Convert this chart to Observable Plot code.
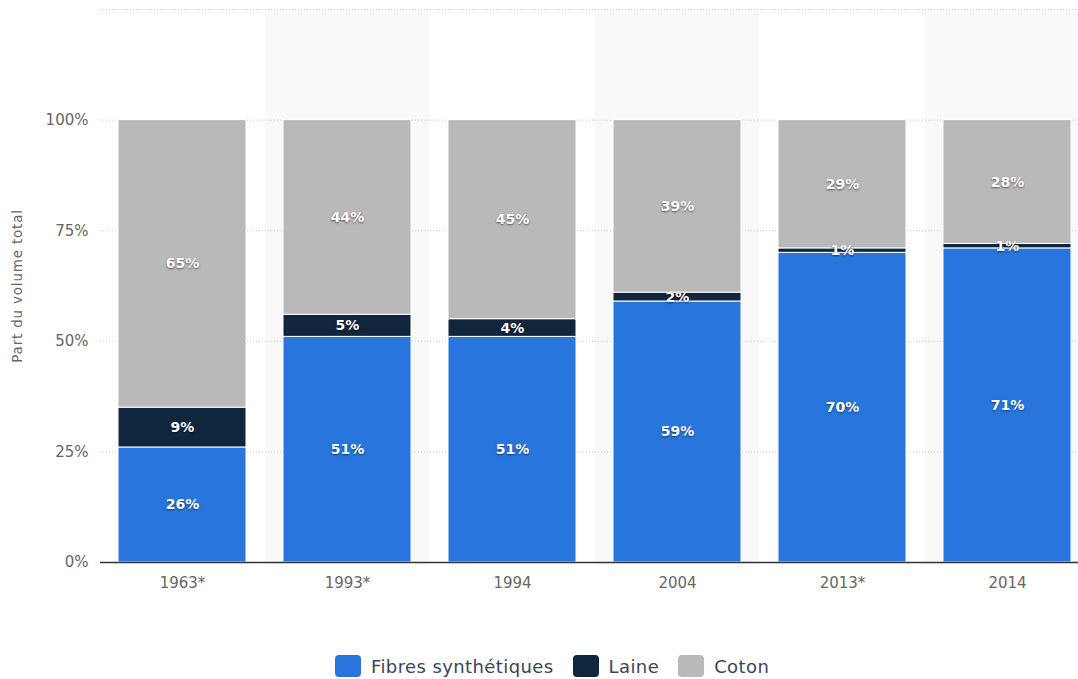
<!DOCTYPE html>
<html>
<head>
<meta charset="utf-8">
<script src="https://cdn.jsdelivr.net/npm/d3@7"></script>
<script src="https://cdn.jsdelivr.net/npm/@observablehq/plot@0.6"></script>
<style>
  body { margin: 0; background: #fff; font-family: "DejaVu Sans", sans-serif; position: relative; width: 1078px; height: 679px; overflow: hidden; }
  #chart svg { display: block; overflow: hidden; }
  .seglabels text { text-shadow: 0px 1px 2px rgba(0,0,0,0.55); }
  #legend { position: absolute; top: 655px; left: 335px; display: flex; align-items: center; font-size: 18px; color: #3a4656; letter-spacing: 0.4px; white-space: nowrap; }
  #legend .item { display: flex; align-items: center; margin-right: 19px; }
  #legend .sw { width: 26px; height: 22px; border-radius: 4px; margin-right: 10px; }
</style>
</head>
<body>
<div id="chart"></div>
<div id="legend"></div>
<script>
const years = ["1963*", "1993*", "1994", "2004", "2013*", "2014"];
const synth = [26, 51, 51, 59, 70, 71];
const laine = [9, 5, 4, 2, 1, 1];
const coton = [65, 44, 45, 39, 29, 28];
const series = ["Fibres synthétiques", "Laine", "Coton"];
const colors = ["#2876dd", "#10263d", "#b9b9b9"];
const yTicks = [0, 25, 50, 75, 100, 125];
const shadedYears = ["1993*", "2004", "2014"];

const valuesBySeries = [synth, laine, coton];
const rows = [];
years.forEach((yr, i) => {
  series.forEach((s, j) => {
    rows.push({year: yr, series: s, order: j, value: valuesBySeries[j][i]});
  });
});

const chart = Plot.plot({
  width: 1078,
  height: 620,
  marginLeft: 100,
  marginRight: -12,
  marginTop: 9,
  marginBottom: 58,
  style: {fontFamily: "DejaVu Sans, sans-serif", background: "#fff"},
  x: {domain: years, paddingInner: 0.224, paddingOuter: 0.112, label: null},
  y: {domain: [0, 125], label: null},
  color: {domain: series, range: colors},
  marks: [
    Plot.barY(shadedYears, {x: d => d, y1: 0, y2: 124, fill: "#f9f9f9", insetLeft: -18.5, insetRight: -18.5}),
    Plot.gridY(yTicks, {stroke: "#c8c8c8", strokeOpacity: 1, strokeDasharray: "1,2"}),
    Plot.barY(rows, Plot.stackY({x: "year", y: "value", z: "series", fill: "series", order: null, stroke: "#fff", strokeWidth: 1})),
    Plot.text(rows, Plot.stackY({x: "year", y: "value", z: "series", order: null, text: d => d.value + "%", fill: "#fff", fontSize: 14, fontWeight: "bold", className: "seglabels"})),
    Plot.ruleY([0], {stroke: "#333", strokeWidth: 1.5}),
    Plot.axisX({tickSize: 0, tickPadding: 15, fontSize: 15, fill: "#666", style: {letterSpacing: "1px"}, label: null}),
    Plot.axisY([0, 25, 50, 75, 100], {tickSize: 0, tickPadding: 12, fontSize: 15, fill: "#666", tickFormat: d => d + "%", label: "Part du volume total", labelAnchor: "center", labelOffset: 88, style: {letterSpacing: "1px"}})
  ]
});
document.getElementById("chart").appendChild(chart);

// y label styling (no arrow)
chart.querySelectorAll("g[aria-label='y-axis label'] text").forEach(t => {
  t.textContent = t.textContent.replace(/\s*[↑→↓←]\s*/g, "").trim();
  t.style.fontSize = "13.5px";
  t.style.fill = "#666";
  t.style.letterSpacing = "0.8px";
});

const legend = document.getElementById("legend");
series.forEach((s, j) => {
  const item = document.createElement("div");
  item.className = "item";
  const sw = document.createElement("div");
  sw.className = "sw";
  sw.style.background = colors[j];
  const label = document.createElement("span");
  label.textContent = s;
  item.appendChild(sw);
  item.appendChild(label);
  legend.appendChild(item);
});
</script>
</body>
</html>
